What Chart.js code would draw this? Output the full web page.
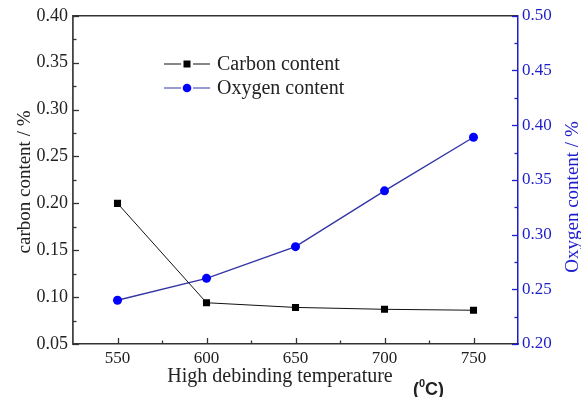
<!DOCTYPE html>
<html>
<head>
<meta charset="utf-8">
<script src="https://cdn.jsdelivr.net/npm/chart.js@4.4.0/dist/chart.umd.min.js"></script>
<style>
html,body{margin:0;padding:0;background:#fff;}
canvas{display:block;}
</style>
</head>
<body>
<canvas id="c" width="581" height="397"></canvas>
<script>
const categories = [550, 600, 650, 700, 750];
const carbon = [0.200, 0.094, 0.089, 0.087, 0.086];
const oxygen = [0.240, 0.260, 0.289, 0.340, 0.389];
const xTicks = [550, 600, 650, 700, 750];
const leftTicks = [0.05, 0.10, 0.15, 0.20, 0.25, 0.30, 0.35, 0.40];
const rightTicks = [0.20, 0.25, 0.30, 0.35, 0.40, 0.45, 0.50];
const seriesNames = ['Carbon content', 'Oxygen content'];
const xTitle = 'High debinding temperature';
const leftTitle = 'carbon content / %';
const rightTitle = 'Oxygen content / %';

const SERIF = '"Liberation Serif", "Times New Roman", serif';
const INK = '#222';
const BLUE = '#1d1dcc';

function setTicks(arr) {
  return function (scale) { scale.ticks = arr.map(v => ({ value: v })); };
}

const decor = {
  id: 'decor',
  afterDraw(chart) {
    const ctx = chart.ctx;
    const a = chart.chartArea;
    const sx = chart.scales.x, sy = chart.scales.y, sy1 = chart.scales.y1;
    ctx.save();
    // top frame line
    ctx.strokeStyle = '#333';
    ctx.lineWidth = 1.5;
    ctx.beginPath();
    ctx.moveTo(a.left, a.top);
    ctx.lineTo(a.right, a.top);
    ctx.stroke();

    function ticksFor(values, fn) {
      values.forEach((v, i) => {
        fn(v, 6);
        if (i < values.length - 1) fn((v + values[i + 1]) / 2, 3.5);
      });
    }
    // x ticks (inward)
    ctx.strokeStyle = '#333';
    ctx.lineWidth = 1.3;
    ticksFor(xTicks, (v, len) => {
      const px = Math.round(sx.getPixelForValue(v)) + 0.5;
      ctx.beginPath(); ctx.moveTo(px, a.bottom); ctx.lineTo(px, a.bottom - len); ctx.stroke();
    });
    ticksFor(leftTicks, (v, len) => {
      const py = Math.round(sy.getPixelForValue(v)) + 0.5;
      ctx.beginPath(); ctx.moveTo(a.left, py); ctx.lineTo(a.left + len, py); ctx.stroke();
    });
    ctx.strokeStyle = BLUE;
    ticksFor(rightTicks, (v, len) => {
      const py = Math.round(sy1.getPixelForValue(v)) + 0.5;
      ctx.beginPath(); ctx.moveTo(a.right, py); ctx.lineTo(a.right - len, py); ctx.stroke();
    });

    // axis titles
    ctx.fillStyle = INK;
    ctx.font = '20px ' + SERIF;
    ctx.textAlign = 'center';
    ctx.textBaseline = 'alphabetic';
    ctx.fillText(xTitle, 280, 382);
    // (0C) unit in bold sans
    ctx.textAlign = 'left';
    let ux = 413;
    ctx.font = 'bold 18px "Liberation Sans", Arial, sans-serif';
    ctx.fillText('(', ux, 395); ux += ctx.measureText('(').width;
    ctx.font = 'bold 11px "Liberation Sans", Arial, sans-serif';
    ctx.fillText('0', ux, 387); ux += ctx.measureText('0').width;
    ctx.font = 'bold 18px "Liberation Sans", Arial, sans-serif';
    ctx.fillText('C)', ux, 395);

    ctx.font = '19px ' + SERIF;
    ctx.textAlign = 'center';
    ctx.save();
    ctx.translate(30, 182);
    ctx.rotate(-Math.PI / 2);
    ctx.fillText(leftTitle, 0, 0);
    ctx.restore();
    ctx.save();
    ctx.fillStyle = BLUE;
    ctx.translate(578, 197);
    ctx.rotate(-Math.PI / 2);
    ctx.fillText(rightTitle, 0, 0);
    ctx.restore();

    // legend
    const rows = [64, 88];
    chart.data.datasets.forEach((ds, i) => {
      const y = rows[i];
      ctx.strokeStyle = ds.borderColor;
      ctx.lineWidth = 1.2;
      ctx.beginPath();
      ctx.moveTo(164, y); ctx.lineTo(181, y);
      ctx.moveTo(193, y); ctx.lineTo(210, y);
      ctx.stroke();
      ctx.fillStyle = ds.pointBackgroundColor;
      if (ds.pointStyle === 'rect') {
        ctx.fillRect(183.5, y - 3.5, 7, 7);
      } else {
        ctx.beginPath(); ctx.arc(187, y, 4.3, 0, Math.PI * 2); ctx.fill();
      }
      ctx.fillStyle = INK;
      ctx.font = '20px ' + SERIF;
      ctx.textAlign = 'left';
      ctx.textBaseline = 'middle';
      ctx.fillText(ds.label, 217, y + 1);
    });
    ctx.restore();
  }
};

new Chart(document.getElementById('c'), {
  type: 'line',
  data: {
    datasets: [
      {
        label: seriesNames[0],
        data: categories.map((x, i) => ({ x: x, y: carbon[i] })),
        yAxisID: 'y',
        borderColor: '#111',
        borderWidth: 1,
        pointStyle: 'rect',
        pointRadius: 5,
        pointBackgroundColor: '#000',
        pointBorderColor: '#000',
        pointBorderWidth: 0,
        tension: 0
      },
      {
        label: seriesNames[1],
        data: categories.map((x, i) => ({ x: x, y: oxygen[i] })),
        yAxisID: 'y1',
        borderColor: '#3434a8',
        borderWidth: 1.4,
        pointStyle: 'circle',
        pointRadius: 4.5,
        pointBackgroundColor: '#0000ff',
        pointBorderColor: '#0000ff',
        pointBorderWidth: 0,
        tension: 0
      }
    ]
  },
  options: {
    responsive: false,
    animation: false,
    devicePixelRatio: 1,
    layout: { padding: { top: 15, left: 0, right: 0, bottom: 0 } },
    plugins: { legend: { display: false }, tooltip: { enabled: false } },
    scales: {
      x: {
        type: 'linear',
        position: 'bottom',
        min: 525,
        max: 775,
        afterBuildTicks: setTicks(xTicks),
        afterFit: s => { s.height = 53; },
        grid: { display: true, drawOnChartArea: false, drawTicks: false },
        border: { display: true, color: '#333', width: 1.5 },
        ticks: { color: INK, font: { family: SERIF, size: 17 }, padding: 4, maxRotation: 0, autoSkip: false, callback: v => String(v) }
      },
      y: {
        type: 'linear',
        position: 'left',
        min: 0.05,
        max: 0.40,
        afterBuildTicks: setTicks(leftTicks),
        afterFit: s => { s.width = 73; },
        grid: { display: true, drawOnChartArea: false, drawTicks: false },
        border: { display: true, color: '#444', width: 1.8 },
        ticks: { color: INK, font: { family: SERIF, size: 18 }, padding: 5, callback: v => v.toFixed(2) }
      },
      y1: {
        type: 'linear',
        position: 'right',
        min: 0.20,
        max: 0.50,
        afterBuildTicks: setTicks(rightTicks),
        afterFit: s => { s.width = 63; },
        grid: { display: true, drawOnChartArea: false, drawTicks: false },
        border: { display: true, color: BLUE, width: 1.5 },
        ticks: { color: BLUE, font: { family: SERIF, size: 17 }, padding: 4, callback: v => v.toFixed(2) }
      }
    }
  },
  plugins: [decor]
});
</script>
</body>
</html>
